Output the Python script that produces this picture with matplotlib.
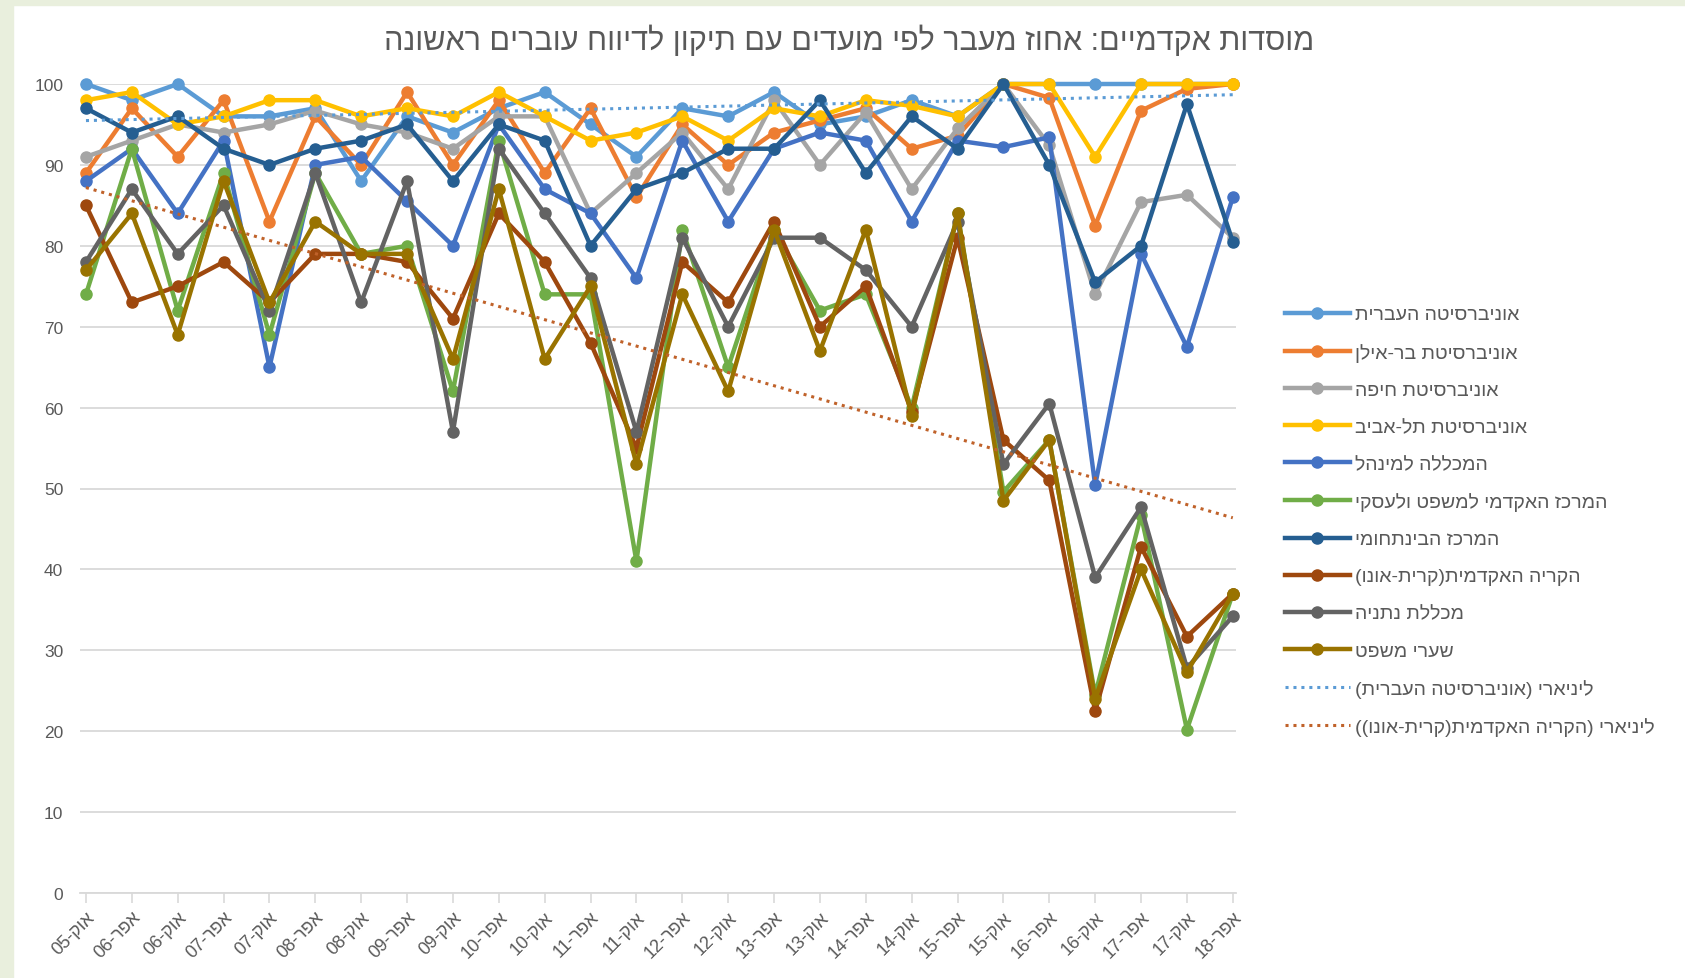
import re
import numpy as np
import matplotlib
matplotlib.use('Agg')
import matplotlib.pyplot as plt
from matplotlib.patches import Rectangle

plt.rcParams['font.family'] = ['Liberation Sans', 'DejaVu Sans']

# נתונים
periods = ['אוק-05', 'אפר-06', 'אוק-06', 'אפר-07', 'אוק-07', 'אפר-08', 'אוק-08', 'אפר-09', 'אוק-09',
           'אפר-10', 'אוק-10', 'אפר-11', 'אוק-11', 'אפר-12', 'אוק-12', 'אפר-13', 'אוק-13', 'אפר-14',
           'אוק-14', 'אפר-15', 'אוק-15', 'אפר-16', 'אוק-16', 'אפר-17', 'אוק-17', 'אפר-18']

names = ['אוניברסיטה העברית', 'אוניברסיטת בר-אילן', 'אוניברסיטת חיפה', 'אוניברסיטת תל-אביב',
         'המכללה למינהל', 'המרכז האקדמי למשפט ולעסקי', 'המרכז הבינתחומי',
         'הקריה האקדמית(קרית-אונו)', 'מכללת נתניה', 'שערי משפט']

huji = [100, 98, 100, 96, 96, 97, 88, 96, 94, 97, 99, 95, 91, 97, 96, 99, 95, 96, 98, 96, 100, 100, 100, 100, 100, 100]
biu = [89, 97, 91, 98, 83, 96, 90, 99, 90, 98, 89, 97, 86, 95, 90, 94, 95.5, 97, 92, 93.6, 100, 98.3, 82.5, 96.7, 99.4, 100]
haifa = [91, 93, 95, 94, 95, 96.7, 95, 94, 92, 96, 96, 84, 89, 94, 87, 98, 90, 96.5, 87, 94.5, 100, 92.4, 74, 85.4, 86.3, 81]
tau = [98, 99, 95, 96, 98, 98, 96, 97, 96, 99, 96, 93, 94, 96, 93, 97, 96, 98, 97.3, 96, 100, 100, 91, 100, 100, 100]
minhal = [88, 92, 84, 93, 65, 90, 91, 85.5, 80, 95, 87, 84, 76, 93, 83, 92, 94, 93, 83, 93, 92.2, 93.4, 50.4, 79, 67.5, 86]
law_business = [74, 92, 72, 89, 69, 89, 79, 80, 62, 93, 74, 74, 41, 82, 65, 82, 72, 74, 60, 84, 49.6, 56, 24.5, 46.7, 20.2, 37]
idc = [97, 94, 96, 92, 90, 92, 93, 95, 88, 95, 93, 80, 87, 89, 92, 92, 98, 89, 96, 92, 100, 90, 75.5, 80, 97.5, 80.5]
ono = [85, 73, 75, 78, 73, 79, 79, 78, 71, 84, 78, 68, 55, 78, 73, 83, 70, 75, 59.5, 81, 56, 51, 22.5, 42.8, 31.7, 37]
netanya = [78, 87, 79, 85, 72, 89, 73, 88, 57, 92, 84, 76, 57, 81, 70, 81, 81, 77, 70, 83, 53, 60.5, 39, 47.7, 27.8, 34.2]
shaarei = [77, 84, 69, 88, 73, 83, 79, 79, 66, 87, 66, 75, 53, 74, 62, 82, 67, 82, 59, 84, 48.5, 56, 24, 40, 27.3, 37]

series = [huji, biu, haifa, tau, minhal, law_business, idc, ono, netanya, shaarei]
colors = ['#5B9BD5', '#ED7D31', '#A5A5A5', '#FFC000', '#4472C4', '#70AD47', '#255E91', '#9E480E', '#636363', '#997300']

title = 'מוסדות אקדמיים: אחוז מעבר לפי מועדים עם תיקון לדיווח עוברים ראשונה'
trend_prefix = 'ליניארי'


def vis(s):
    # סדר תצוגה מימין לשמאל (matplotlib לא עושה bidi)
    tokens = re.findall(r'\d+|.', s)
    mirror = {'(': ')', ')': '('}
    return ''.join(mirror.get(t, t) for t in reversed(tokens))


fig = plt.figure(figsize=(16.85, 9.79), dpi=100, facecolor='white')
fig.patches.append(Rectangle((0, 0), 0.0075, 1, transform=fig.transFigure, color='#E9EFDD', zorder=0))
fig.patches.append(Rectangle((0, 0.994), 1, 0.006, transform=fig.transFigure, color='#E9EFDD', zorder=0))

ax = fig.add_axes([80 / 1685, 1 - 894 / 979, (1236 - 80) / 1685, (894 - 85) / 979])
x = np.arange(len(periods))

for vals, name, c in zip(series, names, colors):
    ax.plot(x, vals, color=c, lw=3.2, marker='o', ms=8, label=vis(name), clip_on=False, zorder=3)

# קווי מגמה
for idx, c in [(0, '#5B9BD5'), (7, '#C0622A')]:
    k, b = np.polyfit(x, series[idx], 1)
    ax.plot(x, k * x + b, color=c, lw=2.2, ls=(0, (1, 1.6)), zorder=4,
            label=vis(trend_prefix + ' (' + names[idx] + ')'))

ax.set_ylim(0, 100)
ax.set_xlim(-0.13, 25.07)
ax.set_yticks(range(0, 101, 10))
ax.yaxis.grid(True, color='#D9D9D9', lw=1.3)
ax.set_axisbelow(True)
for s in ['top', 'right', 'left']:
    ax.spines[s].set_visible(False)
ax.spines['bottom'].set_color('#D9D9D9')
ax.spines['bottom'].set_linewidth(1.3)
ax.tick_params(axis='y', length=0, labelsize=12.5, labelcolor='#595959', pad=12)
ax.tick_params(axis='x', length=7, width=1.2, color='#D9D9D9', labelsize=13, labelcolor='#595959', pad=4)
ax.set_xticks(x)
ax.set_xticklabels([vis(p) for p in periods], rotation=45, ha='right', va='top', rotation_mode='anchor')

fig.text(0.504, 0.958, vis(title), ha='center', va='center', fontsize=22, color='#595959')

leg = ax.legend(loc='upper left', bbox_to_anchor=(1277 / 1685, 1 - 299 / 979), bbox_transform=fig.transFigure,
                frameon=False, fontsize=14, handlelength=3.35, handletextpad=0.25, labelspacing=1.0,
                borderaxespad=0)
for t in leg.get_texts():
    t.set_color('#595959')

fig.savefig('out.png', dpi=100, facecolor=fig.get_facecolor())
